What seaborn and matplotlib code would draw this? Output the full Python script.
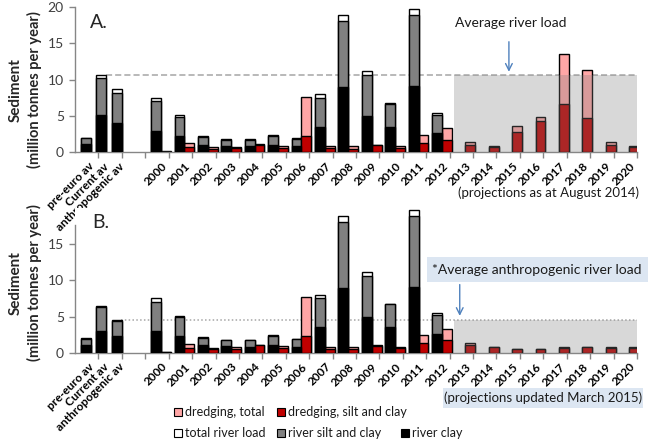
import numpy as np
import pandas as pd
import matplotlib
matplotlib.use("Agg")
import matplotlib.pyplot as plt
from matplotlib.patches import Rectangle
import seaborn as sns

# ---------------- data ----------------
av_labels = ["pre-euro av", "Current av", "anthropogenic av"]
years = [str(y) for y in range(2000, 2021)]

# Panel A averages
av_total_A = [2.0, 10.6, 8.7]
av_silt_A = [1.9, 10.2, 8.2]
av_clay_A = [1.1, 5.1, 4.1]
# Panel B averages
av_total_B = [2.0, 6.45, 4.5]
av_silt_B = [1.9, 6.3, 4.4]
av_clay_B = [1.0, 3.0, 2.3]

# river loads 2000-2012
river_total = [7.5, 5.1, 2.2, 1.8, 1.8, 2.4, 1.9, 8.0, 18.9, 11.2, 6.8, 19.7, 5.45]
river_silt = [7.05, 4.9, 2.1, 1.75, 1.7, 2.3, 1.85, 7.5, 18.1, 10.6, 6.7, 18.9, 5.2]
river_clay = [3.0, 2.25, 1.0, 0.9, 0.8, 1.0, 0.8, 3.5, 9.0, 5.0, 3.5, 9.1, 2.6]

# dredging 2000-2012 (same in both panels)
dredge_total_hist = [0.15, 1.25, 0.7, 0.75, 1.1, 0.9, 7.65, 0.85, 0.8, 1.0, 0.8, 2.4, 3.3]
dredge_silt_hist = [0.1, 0.7, 0.45, 0.55, 1.0, 0.6, 2.25, 0.55, 0.45, 0.95, 0.6, 1.3, 1.7]
# projections 2013-2020
dredge_total_proj_A = [1.4, 0.9, 3.65, 4.8, 13.5, 11.3, 1.35, 0.8]
dredge_silt_proj_A = [1.0, 0.7, 2.75, 4.35, 6.6, 4.7, 0.95, 0.75]
dredge_total_proj_B = [1.4, 0.85, 0.5, 0.5, 0.75, 0.85, 0.75, 0.75]
dredge_silt_proj_B = [1.0, 0.8, 0.45, 0.45, 0.7, 0.8, 0.7, 0.7]

avg_line_A = 10.6   # average river load
avg_line_B = 4.5    # average anthropogenic river load

# ---------------- style ----------------
sns.set_theme(style="white")
FONT = ["Lato", "DejaVu Sans"]
plt.rcParams["font.family"] = FONT

C_PINK = "#ffa6a6"
C_RED = "#c00000"
C_WHITE = "#ffffff"
C_GREY = "#808080"
C_BLACK = "#000000"
C_AXIS = "#868686"
C_SHADE = "#808080"
C_BOX = "#dce6f2"

W, H = 669, 447
fig = plt.figure(figsize=(W / 100, H / 100), dpi=100)

BAR_W = 0.42
AV_START, AV_STEP = -3.21, 0.66
XLIM = (-3.67, 20.33)
av_pos = AV_START + AV_STEP * np.arange(len(av_labels))
yr_idx = np.arange(len(years))


def bars(ax, x, y, color, z):
    x = np.asarray(x, dtype=float)
    spacing = np.min(np.diff(np.sort(x))) if len(x) > 1 else 1.0
    df = pd.DataFrame({"x": x, "y": y})
    sns.barplot(data=df, x="x", y="y", native_scale=True, orient="x",
                width=BAR_W / spacing, color=color, saturation=1,
                edgecolor="black", linewidth=1.0, errorbar=None, ax=ax,
                zorder=z)


def fig_ax(left, top, right, bottom):
    return fig.add_axes([left / W, 1 - bottom / H, (right - left) / W, (bottom - top) / H])


def panel(ax, av_tot, av_silt, av_clay, d_tot_proj, d_silt_proj, line_val,
          line_start, line_style, ylim, spine_top):
    n_hist = len(river_total)
    # average bars
    bars(ax, av_pos, av_tot, C_WHITE, 2)
    bars(ax, av_pos, av_silt, C_GREY, 3)
    bars(ax, av_pos, av_clay, C_BLACK, 4)
    # river bars
    rx = yr_idx[:n_hist] - 0.21
    bars(ax, rx, river_total, C_WHITE, 2)
    bars(ax, rx, river_silt, C_GREY, 3)
    bars(ax, rx, river_clay, C_BLACK, 4)
    # dredging bars
    dx = yr_idx + 0.21
    bars(ax, dx, dredge_total_hist + d_tot_proj, C_PINK, 2)
    bars(ax, dx, dredge_silt_hist + d_silt_proj, C_RED, 3)

    ax.set_xlim(*XLIM)
    ax.set_ylim(*ylim)
    # average line + projection shading
    ax.hlines(line_val, line_start, XLIM[1], colors="#a6a6a6", linestyles=line_style,
              linewidth=1.1, zorder=1)
    ax.add_patch(Rectangle((12.5, 0), XLIM[1] - 12.5, line_val, facecolor=C_SHADE,
                           alpha=0.3, edgecolor="none", zorder=6))

    # axes styling
    for s in ["top", "right"]:
        ax.spines[s].set_visible(False)
    for s in ["left", "bottom"]:
        ax.spines[s].set_color(C_AXIS)
        ax.spines[s].set_linewidth(1.0)
    ax.spines["left"].set_bounds(0, spine_top)
    ax.set_yticks([t for t in [0, 5, 10, 15, 20] if t <= spine_top])
    ax.tick_params(axis="y", colors=C_AXIS, labelcolor="#404040", labelsize=10,
                   length=4, width=1, direction="out", left=True, pad=4)
    # major ticks -> labels only, minor ticks -> marks
    lab_pos = list(av_pos + 0.1) + list(yr_idx)
    ax.set_xticks(lab_pos)
    ax.set_xticklabels(av_labels + years, rotation=45, ha="right",
                       rotation_mode="anchor", fontsize=8.5, fontweight="bold",
                       color="black")
    ax.set_xticks(np.arange(-3, 21) + 0.33, minor=True)
    ax.tick_params(axis="x", which="major", length=0, pad=6)
    ax.tick_params(axis="x", which="minor", length=4, width=1, color=C_AXIS,
                   direction="out", bottom=True)
    ax.set_xlabel("")
    ax.set_ylabel("")
    ax.grid(False)


# ---------------- panel A ----------------
axA = fig_ax(75, 7, 637, 152.3)
panel(axA, av_total_A, av_silt_A, av_clay_A, dredge_total_proj_A, dredge_silt_proj_A,
      avg_line_A, av_pos[1] + 0.2, (0, (4, 2)), (0, 20), 20)
axA.annotate("", xy=(14.86, avg_line_A + 0.1), xytext=(14.86, 15.6),
             arrowprops=dict(arrowstyle="->", color="#4f81bd", lw=1.0), zorder=7)
axA.text(14.95, 17.8, "Average river load", ha="center", va="center",
         fontsize=10, color="#1a1a1a")
fig.text(549 / W, 1 - 193 / H, "(projections as at August 2014)", ha="center",
         va="center", fontsize=9.5, color="#1a1a1a")

# ---------------- panel B ----------------
axB = fig_ax(75, 208, 637, 352.7)
panel(axB, av_total_B, av_silt_B, av_clay_B, dredge_total_proj_B, dredge_silt_proj_B,
      avg_line_B, av_pos[2] + 0.2, (0, (1, 1.5)), (0, 20), 17.6)
fig.patches.append(Rectangle((427 / W, 1 - 282 / H), 221 / W, 25 / H,
                             transform=fig.transFigure, facecolor=C_BOX,
                             edgecolor="none", zorder=0))
fig.text(537 / W, 1 - 270 / H, "*Average anthropogenic river load", ha="center",
         va="center", fontsize=10, color="#1a1a1a")
axB.annotate("", xy=(12.76, avg_line_B + 0.2), xytext=(12.76, 9.8),
             arrowprops=dict(arrowstyle="->", color="#4f81bd", lw=1.0), zorder=7)
fig.patches.append(Rectangle((443 / W, 1 - 408 / H), 200 / W, 20 / H,
                             transform=fig.transFigure, facecolor=C_BOX,
                             edgecolor="none", zorder=0))
fig.text(543 / W, 1 - 398 / H, "(projections updated March 2015)", ha="center",
         va="center", fontsize=9.5, color="#1a1a1a")

# panel letters
fig.text(90 / W, 1 - 23 / H, "A.", fontsize=14, ha="left", va="center")
fig.text(92 / W, 1 - 223 / H, "B.", fontsize=14, ha="left", va="center")

# y labels
for yc in (90, 283):
    fig.text(16 / W, 1 - yc / H, "Sediment", rotation=90, ha="center", va="center",
             fontsize=11, fontweight="bold")
    fig.text(34 / W, 1 - yc / H, "(million tonnes per year)", rotation=90,
             ha="center", va="center", fontsize=10.5, fontweight="bold")

# legend
legend_items = [
    ("dredging, total", C_PINK, 174, 412),
    ("dredging, silt and clay", C_RED, 277, 412),
    ("total river load", C_WHITE, 174, 433),
    ("river silt and clay", C_GREY, 277, 433),
    ("river clay", C_BLACK, 401, 433),
]
for lab, col, x0, y0 in legend_items:
    fig.patches.append(Rectangle((x0 / W, 1 - (y0 + 4) / H), 8 / W, 8 / H,
                                 transform=fig.transFigure, facecolor=col,
                                 edgecolor="black", linewidth=0.8))
    fig.text((x0 + 11) / W, 1 - y0 / H, lab, ha="left", va="center", fontsize=9,
             color="#1a1a1a")

fig.savefig("out.png", dpi=100)
